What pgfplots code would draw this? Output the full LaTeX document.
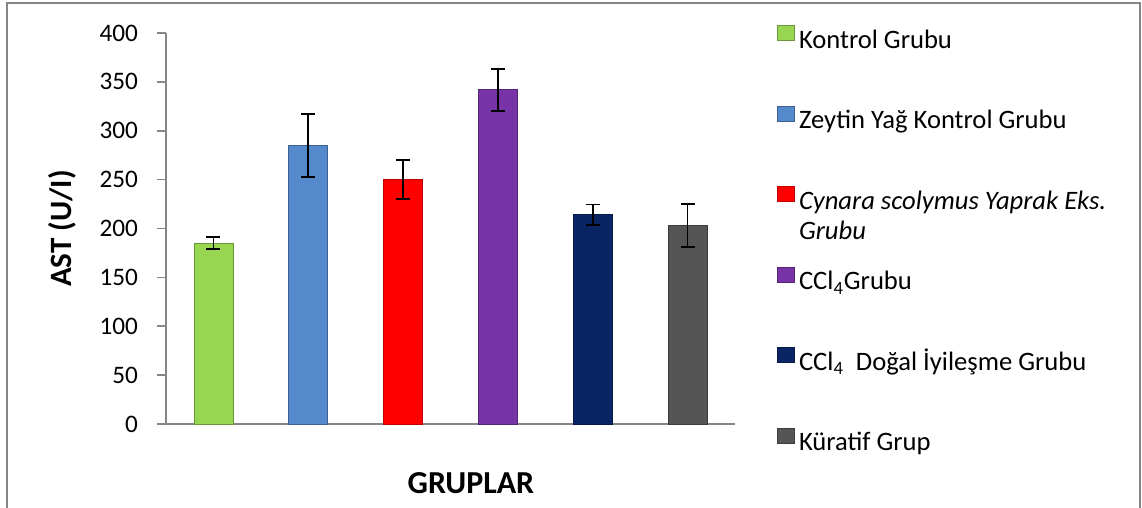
\documentclass[border=0pt]{standalone}
\usepackage{pgfplots}
\pgfplotsset{compat=1.18}
\usepackage{fontspec}
\setmainfont{Carlito}
\definecolor{cg}{RGB}{152,214,82}
\definecolor{cb}{RGB}{84,137,204}
\definecolor{cr}{RGB}{255,0,0}
\definecolor{cp}{RGB}{120,52,166}
\definecolor{cn}{RGB}{10,36,100}
\definecolor{ck}{RGB}{85,85,85}
\definecolor{axgray}{RGB}{134,134,134}
\newcommand{\lgent}[1]{\raisebox{0pt}[9pt][3pt]{#1}}
\begin{document}
\begin{tikzpicture}
\useasboundingbox (0,0) rectangle (571pt,254pt);
\draw[axgray, line width=0.8pt] (3.5pt,-2pt) -- (3.5pt,252.5pt) -- (570pt,252.5pt) -- (570pt,-2pt);
\begin{axis}[
  at={(83pt,42pt)}, anchor=south west,
  scale only axis, width=284.5pt, height=195.5pt,
  xmin=0, xmax=6, ymin=0, ymax=400,
  axis lines*=left,
  axis line style={draw=axgray, line width=0.8pt},
  xtick=\empty,
  ytick={0,50,...,400},
  tick align=outside,
  major tick length=4.5pt,
  ytick style={draw=axgray, line width=0.8pt},
  tick label style={font=\fontsize{12.6}{15}\selectfont},
  yticklabel style={xshift=-6pt},
  /pgf/number format/assume math mode=true,
  ybar, bar width=19.5pt, bar shift=0pt,
  error bars/y dir=both, error bars/y explicit,
  error bars/error bar style={black, line width=0.9pt},
  error bars/error mark options={rotate=90, mark size=3.5pt, black, line width=0.9pt},
  ylabel={AST (U/I)},
  ylabel style={at={(axis description cs:-0.183,0.5)}, anchor=center, font=\fontsize{15.5}{18}\bfseries},
  xlabel={GRUPLAR},
  xlabel style={at={(axis description cs:0.536,-0.151)}, anchor=center, font=\fontsize{16}{19}\bfseries},
  legend image code/.code={\fill[#1] (0pt,0pt) rectangle (8.5pt,7.5pt);},
  legend cell align=left,
  legend style={draw=none, fill=none, at={(axis description cs:1.063,1.031)}, anchor=north west,
    row sep=25.3pt, font=\fontsize{13.3}{16}\selectfont,
    /tikz/every even column/.style={column sep=0pt}},
  clip=false,
]
\addplot[fill=cg, draw=cg!70!black] coordinates {(0.5,185) +- (0,6)};
\addplot[fill=cb, draw=cb!70!black] coordinates {(1.5,285) +- (0,32)};
\addplot[fill=cr, draw=cr!75!black] coordinates {(2.5,250) +- (0,20)};
\addplot[fill=cp, draw=cp!70!black] coordinates {(3.5,342) +- (0,21.5)};
\addplot[fill=cn, draw=cn!70!black] coordinates {(4.5,214) +- (0,10.5)};
\addplot[fill=ck, draw=ck!70!black] coordinates {(5.5,203) +- (0,21.8)};
\legend{\lgent{Kontrol Grubu},
  \lgent{Zeytin Yağ Kontrol Grubu},
  \lgent{\begin{tabular}[t]{@{}l@{}}\itshape Cynara scolymus Yaprak Eks.\\[-1pt]\itshape Grubu\end{tabular}},
  \lgent{CCl\textsubscript{4}Grubu},
  \lgent{CCl\textsubscript{4}\ \ Doğal İyileşme Grubu},
  \lgent{Küratif Grup}}
\end{axis}
\end{tikzpicture}
\end{document}
